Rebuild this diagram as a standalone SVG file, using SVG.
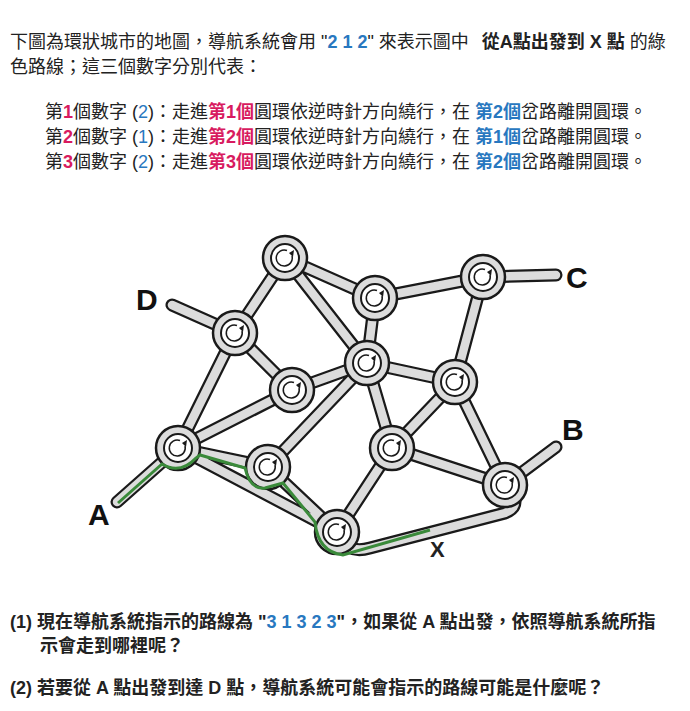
<svg xmlns="http://www.w3.org/2000/svg" width="690" height="711" viewBox="0 0 690 711">
<style>
text{font-family:"Liberation Sans","Noto Sans CJK TC",sans-serif;font-size:18px;fill:#222}
.b{font-weight:bold}.p{fill:#d81b60;font-weight:bold}.u{fill:#2878c0;font-weight:bold}.uq{fill:#2878c0}
.rd{stroke:#1a1a1a;stroke-width:13;fill:none;stroke-linecap:round}
.rl{stroke:#dcdcdc;stroke-width:8.5;fill:none;stroke-linecap:round}
.lb{font-size:30px;font-weight:bold;fill:#111}
</style>
<defs>
<g id="ring">
<circle r="22" fill="#dcdcdc" stroke="#1a1a1a" stroke-width="2.5"/>
<circle r="14" fill="#fff" stroke="#1a1a1a" stroke-width="2"/>
<path d="M7,-2A8,8 0 1 1 2,-7.5" fill="none" stroke="#1a1a1a" stroke-width="1.5"/>
<path d="M4,-5L9,-8L8,-1z" fill="#1a1a1a"/>
</g>
</defs>
<text x="10" y="48">下圖為環狀城市的地圖，導航系統會用 "<tspan class="u">2 1 2</tspan>" 來表示圖中 <tspan class="b" dx="8">從A點出發到 X 點</tspan> 的綠</text>
<text x="10" y="73">色路線；這三個數字分別代表：</text>
<text x="45" y="118">第<tspan class="p">1</tspan>個數字 (<tspan class="uq">2</tspan>)：走進<tspan class="p">第1個</tspan>圓環依逆時針方向繞行，在 <tspan class="u">第2個</tspan>岔路離開圓環。</text>
<text x="45" y="143">第<tspan class="p">2</tspan>個數字 (<tspan class="uq">1</tspan>)：走進<tspan class="p">第2個</tspan>圓環依逆時針方向繞行，在 <tspan class="u">第1個</tspan>岔路離開圓環。</text>
<text x="45" y="168">第<tspan class="p">3</tspan>個數字 (<tspan class="uq">2</tspan>)：走進<tspan class="p">第3個</tspan>圓環依逆時針方向繞行，在 <tspan class="u">第2個</tspan>岔路離開圓環。</text>
<g id="connectors">
<g class="rd">
<path d="M285,258L235,333M285,258L375,298M285,258L367,363M375,298L483,277M375,298L367,363M483,277L455,382M483,277L556,275M235,333L172,305M235,333L178,448M235,333L292,390M292,390L367,363M292,390L178,448M367,363L455,382M367,363L392,448M367,363L268,467M455,382L392,448M455,382L505,485M178,448L268,467M178,448L337,532M178,448L117,502M268,467L337,532M392,448L337,532M392,448L505,485M505,485L556,447M337,532Q345,555 370,548L505,513Q525,505 505,485"/>
</g>
<g class="rl"><path d="M285,258L235,333M285,258L375,298M285,258L367,363M375,298L483,277M375,298L367,363M483,277L455,382M483,277L556,275M235,333L172,305M235,333L178,448M235,333L292,390M292,390L367,363M292,390L178,448M367,363L455,382M367,363L392,448M367,363L268,467M455,382L392,448M455,382L505,485M178,448L268,467M178,448L337,532M178,448L117,502M268,467L337,532M392,448L337,532M392,448L505,485M505,485L556,447M337,532Q345,555 370,548L505,513Q525,505 505,485"/></g>
</g>
<g id="nodes">
<use href="#ring" x="285" y="258"/><use href="#ring" x="375" y="298"/><use href="#ring" x="483" y="277"/>
<use href="#ring" x="235" y="333"/><use href="#ring" x="367" y="363"/><use href="#ring" x="292" y="390"/>
<use href="#ring" x="455" y="382"/><use href="#ring" x="178" y="448"/><use href="#ring" x="268" y="467"/>
<use href="#ring" x="392" y="448"/><use href="#ring" x="505" y="485"/><use href="#ring" x="337" y="532"/>
</g>
<path id="route" d="M118,503L162,464Q180,475 196,458L200,455L245,468Q250,490 265,488L283,483L315,522Q318,552 343,555L430,530" fill="none" stroke="#3a8a3a" stroke-width="3"/>
<g id="labels">
<text class="lb" x="136" y="310">D</text>
<text class="lb" x="566" y="288">C</text>
<text class="lb" x="562" y="440">B</text>
<text class="lb" x="88" y="525">A</text>
<text x="430" y="557" style="font-size:22px;font-weight:bold">X</text>
</g>
<text x="10" y="628" class="b">(1) 現在導航系統指示的路線為 "<tspan class="u">3 1 3 2 3</tspan>"，如果從 A 點出發，依照導航系統所指</text>
<text x="40" y="652" class="b">示會走到哪裡呢？</text>
<text x="10" y="694" class="b">(2) 若要從 A 點出發到達 D 點，導航系統可能會指示的路線可能是什麼呢？</text>
</svg>
